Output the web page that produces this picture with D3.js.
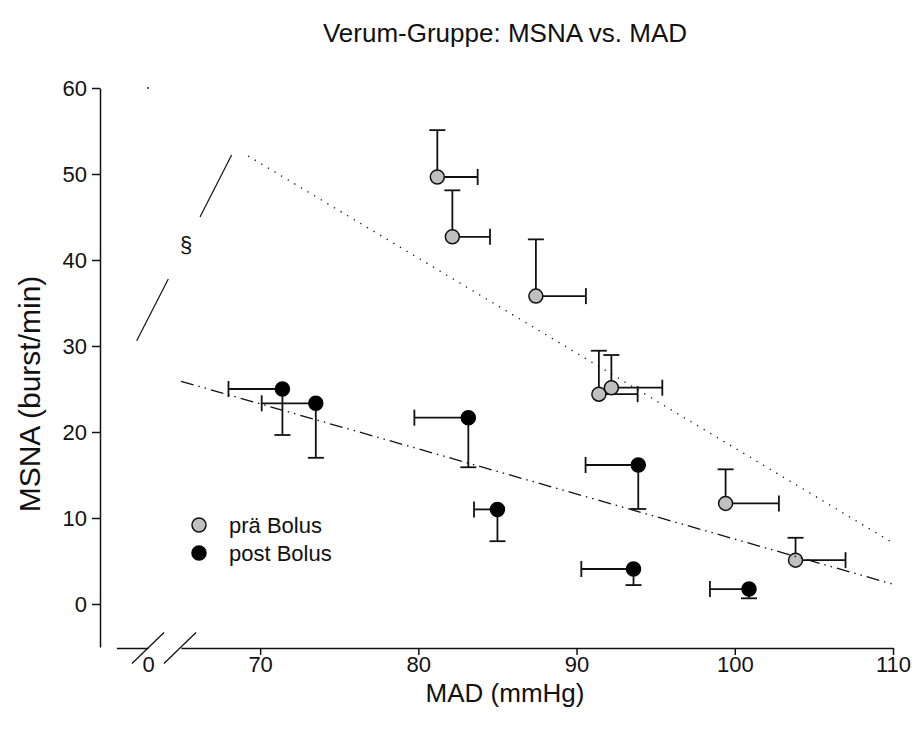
<!DOCTYPE html>
<html>
<head>
<meta charset="utf-8">
<script src="https://cdn.jsdelivr.net/npm/d3@7"></script>
<style>
  html, body { margin: 0; padding: 0; background: #fff; }
  svg { display: block; font-family: "Liberation Sans", Arial, sans-serif; }
</style>
</head>
<body>
<svg id="chart" width="916" height="741"></svg>
<script>
// MSNA vs. MAD, Verum group: before and after bolus (mean with one-sided SD bars)
const preMAD      = [81.2, 82.15, 87.43, 91.41, 92.2, 99.42, 103.84];
const preMSNA     = [49.65, 42.7, 35.8, 24.4, 25.15, 11.7, 5.1];
const preMADErr   = [2.55, 2.38, 3.16, 2.45, 3.22, 3.37, 3.16];
const preMSNAErr  = [5.45, 5.4, 6.6, 5.05, 3.8, 3.96, 2.6];

const postMAD     = [71.41, 73.52, 83.16, 85.0, 93.9, 93.6, 100.9];
const postMSNA    = [25.0, 23.34, 21.66, 11.0, 16.16, 4.07, 1.74];
const postMADErr  = [3.41, 3.42, 3.41, 1.48, 3.33, 3.3, 2.47];
const postMSNAErr = [5.35, 6.34, 5.76, 3.7, 5.11, 1.87, 1.08];

// regression lines (start / end in data units)
const preFit  = [[69.24, 52.1], [110, 7.1]];
const postFit = [[65, 25.9], [110, 2.3]];
// significance marker line
const sectionLine = [[62.2, 30.6], [68.2, 52.2]];

const xTicksMain = [70, 80, 90, 100, 110];
const xTicksLeft = [0];
const yTicks = [0, 10, 20, 30, 40, 50, 60];
const legendLabels = ["prä Bolus", "post Bolus"];

const svg = d3.select("#chart");
const FONT = "Liberation Sans, Arial, sans-serif";

// broken x axis: short segment around 0, main segment 65..110
const x = d3.scaleLinear().domain([65, 110]).range([181, 893]);
const pxPerUnit = (x(110) - x(65)) / 45;
const xLeft = d3.scaleLinear().domain([-2, 0]).range([148 - 2 * pxPerUnit, 148]);
const y = d3.scaleLinear().domain([-5, 60]).range([647, 88]);
const axisY = 648;

const ink = "#111";

// Y axis
const yAxis = svg.append("g")
  .attr("transform", "translate(100,0)")
  .call(d3.axisLeft(y).tickValues(yTicks).tickSize(8).tickPadding(5).tickSizeOuter(0));
yAxis.select(".domain").attr("stroke", ink).attr("stroke-width", 1.5);
yAxis.selectAll(".tick line").attr("stroke", ink).attr("stroke-width", 1.5);
yAxis.selectAll(".tick text").attr("font-size", 22).attr("fill", ink).attr("font-family", FONT);

// X axis main segment
const xAxis = svg.append("g")
  .attr("transform", `translate(0,${axisY})`)
  .call(d3.axisBottom(x).tickValues(xTicksMain).tickSize(7).tickPadding(1).tickSizeOuter(0));
xAxis.select(".domain").attr("stroke", ink).attr("stroke-width", 1.5);
xAxis.selectAll(".tick line").attr("stroke", ink).attr("stroke-width", 1.5);
xAxis.selectAll(".tick text").attr("font-size", 22).attr("fill", ink).attr("font-family", FONT);

// X axis short segment before the break
const xAxisLeft = svg.append("g")
  .attr("transform", `translate(0,${axisY})`)
  .call(d3.axisBottom(xLeft).tickValues(xTicksLeft).tickFormat(d3.format("d"))
    .tickSize(0).tickPadding(8).tickSizeOuter(0));
xAxisLeft.select(".domain").attr("stroke", ink).attr("stroke-width", 1.5);
xAxisLeft.selectAll(".tick text").attr("font-size", 22).attr("fill", ink).attr("font-family", FONT);

// break marks
[xLeft(0), x(65) - 1].forEach(cx => {
  svg.append("line")
    .attr("x1", cx - 16).attr("y1", axisY + 15.5)
    .attr("x2", cx + 16).attr("y2", axisY - 15.5)
    .attr("stroke", ink).attr("stroke-width", 1.3);
});

// titles
svg.append("text").attr("x", 505).attr("y", 42).attr("text-anchor", "middle")
  .attr("font-size", 26).attr("fill", ink).text("Verum-Gruppe: MSNA vs. MAD");
svg.append("text").attr("x", 505).attr("y", 702).attr("text-anchor", "middle")
  .attr("font-size", 26).attr("fill", ink).text("MAD (mmHg)");
svg.append("text")
  .attr("transform", "translate(40,394) rotate(-90)")
  .attr("text-anchor", "middle")
  .attr("font-size", 30).attr("fill", ink).text("MSNA (burst/min)");

// error bars with end caps
const cap = 8;
const bars = svg.append("g").attr("stroke", ink).attr("stroke-width", 1.8).attr("fill", "none");
function errorBars(xs, ys, xe, ye, dir) {
  xs.forEach((xv, i) => {
    const cx = x(xv), cy = y(ys[i]);
    const ex = x(xv + dir * xe[i]);
    const ey = y(ys[i] + dir * ye[i]);
    bars.append("line").attr("x1", cx).attr("y1", cy).attr("x2", ex).attr("y2", cy);
    bars.append("line").attr("x1", ex).attr("y1", cy - cap).attr("x2", ex).attr("y2", cy + cap);
    bars.append("line").attr("x1", cx).attr("y1", cy).attr("x2", cx).attr("y2", ey);
    bars.append("line").attr("x1", cx - cap).attr("y1", ey).attr("x2", cx + cap).attr("y2", ey);
  });
}
errorBars(preMAD, preMSNA, preMADErr, preMSNAErr, 1);
errorBars(postMAD, postMSNA, postMADErr, postMSNAErr, -1);

// points
const r = 7;
svg.append("g").selectAll("circle").data(preMAD).join("circle")
  .attr("cx", d => x(d)).attr("cy", (d, i) => y(preMSNA[i])).attr("r", r)
  .attr("fill", "#c0c0c0").attr("stroke", ink).attr("stroke-width", 1.5);
svg.append("g").selectAll("circle").data(postMAD).join("circle")
  .attr("cx", d => x(d)).attr("cy", (d, i) => y(postMSNA[i])).attr("r", r)
  .attr("fill", "#000").attr("stroke", "#000").attr("stroke-width", 1.5);

// regression lines
const line = d3.line().x(d => x(d[0])).y(d => y(d[1]));
svg.append("path").attr("d", line(preFit)).attr("fill", "none")
  .attr("stroke", ink).attr("stroke-width", 1.3).attr("stroke-dasharray", "1.3,6.4");
svg.append("path").attr("d", line(postFit)).attr("fill", "none")
  .attr("stroke", ink).attr("stroke-width", 1.3).attr("stroke-dasharray", "13,5,1.5,5,1.5,5");
// the pre-bolus fit evaluated inside the short segment
svg.append("circle").attr("cx", xLeft(0)).attr("cy", y(60)).attr("r", 0.9).attr("fill", ink);

// significance marker: line interrupted by "§"
const p0 = sectionLine[0], p1 = sectionLine[1];
const lerp = t => [p0[0] + (p1[0] - p0[0]) * t, p0[1] + (p1[1] - p0[1]) * t];
[[0, 0.333], [0.667, 1]].forEach(([a, b]) => {
  svg.append("path").attr("d", line([lerp(a), lerp(b)]))
    .attr("fill", "none").attr("stroke", ink).attr("stroke-width", 1.2);
});
const mid = lerp(0.5);
svg.append("text").attr("x", x(mid[0]) + 2).attr("y", y(mid[1]) + 4)
  .attr("text-anchor", "middle").attr("font-size", 22).attr("fill", ink).text("§");

// legend
const legend = svg.append("g").attr("transform", "translate(199,525)");
legendLabels.forEach((lab, i) => {
  const g = legend.append("g").attr("transform", `translate(0,${i * 28})`);
  g.append("circle").attr("r", r).attr("fill", i === 0 ? "#c0c0c0" : "#000")
    .attr("stroke", i === 0 ? ink : "#000").attr("stroke-width", 1.5);
  g.append("text").attr("x", 30).attr("y", 8).attr("font-size", 22).attr("fill", ink).text(lab);
});
</script>
</body>
</html>
